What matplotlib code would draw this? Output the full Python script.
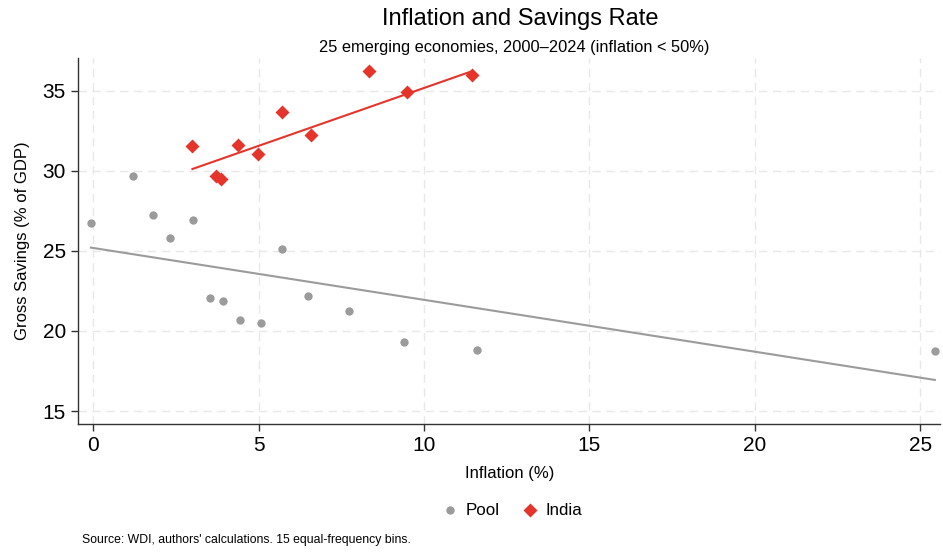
import matplotlib.pyplot as plt
import numpy as np

plt.rcParams["font.family"] = ["Liberation Sans", "DejaVu Sans"]

# binned means (inflation %, gross savings % of GDP)
pool_inflation = [-0.07, 1.19, 1.80, 2.32, 3.03, 3.52, 3.93, 4.45, 5.08, 5.71,
                  6.50, 7.73, 9.40, 11.61, 25.44]
pool_savings = [26.74, 29.67, 27.24, 25.82, 26.95, 22.06, 21.87, 20.70, 20.48,
                25.10, 22.20, 21.26, 19.29, 18.81, 18.77]

india_inflation = [3.00, 3.70, 3.85, 4.38, 4.98, 5.71, 6.59, 8.35, 9.48, 11.44]
india_savings = [31.57, 29.69, 29.51, 31.61, 31.07, 33.65, 32.23, 36.25, 34.90,
                 35.98]

# linear fits (intercept, slope) as shown in the chart
pool_fit = (25.18, -0.3238)
india_fit = (27.94, 0.7226)

x_ticks = [0, 5, 10, 15, 20, 25]
y_ticks = [15, 20, 25, 30, 35]

pool_color = "#9b9b9b"
india_color = "#e5352a"

fig = plt.figure(figsize=(9.43, 5.53), dpi=100)
ax = fig.add_axes([0.083, 0.2335, 0.914, 0.662])

for side in ["top", "right"]:
    ax.spines[side].set_visible(False)
for side in ["left", "bottom"]:
    ax.spines[side].set_color("#333333")
    ax.spines[side].set_linewidth(1.0)

ax.grid(True, color="#e8e8e8", linestyle=(0, (6, 4)), linewidth=1.0)
ax.set_axisbelow(True)

# fit lines over the range of each group
px = np.array([min(pool_inflation), max(pool_inflation)])
ax.plot(px, pool_fit[0] + pool_fit[1] * px, color=pool_color, lw=1.5, zorder=2)
ix = np.array([min(india_inflation), max(india_inflation)])
ax.plot(ix, india_fit[0] + india_fit[1] * ix, color=india_color, lw=1.5, zorder=2)

ax.plot(pool_inflation, pool_savings, "o", color=pool_color, ms=6,
        mec="none", label="Pool", zorder=3)
ax.plot(india_inflation, india_savings, "D", color=india_color, ms=7.3,
        mec="none", label="India", zorder=3)

ax.set_xlim(-0.45, 25.6)
ax.set_ylim(14.2, 37.05)
ax.set_xticks(x_ticks)
ax.set_yticks(y_ticks)
ax.tick_params(axis="both", labelsize=15, length=5, width=1.0,
               color="#333333", pad=4)

ax.set_xlabel("Inflation (%)", fontsize=12, labelpad=8)
ax.set_ylabel("Gross Savings (% of GDP)", fontsize=12, labelpad=9)

fig.text(0.552, 0.965, "Inflation and Savings Rate", ha="center",
         va="center", fontsize=17)
fig.text(0.545, 0.914, "25 emerging economies, 2000\u20132024 (inflation < 50%)",
         ha="center", va="center", fontsize=11.8)

fig.legend(loc="center", bbox_to_anchor=(0.543, 0.076), ncol=2,
           frameon=False, fontsize=12.2, handletextpad=0.4, columnspacing=1.3,
           handlelength=1.0)

fig.text(0.087, 0.013, "Source: WDI, authors' calculations. 15 equal-frequency bins.",
         ha="left", va="bottom", fontsize=8.8)

fig.savefig("out.png", dpi=100)
